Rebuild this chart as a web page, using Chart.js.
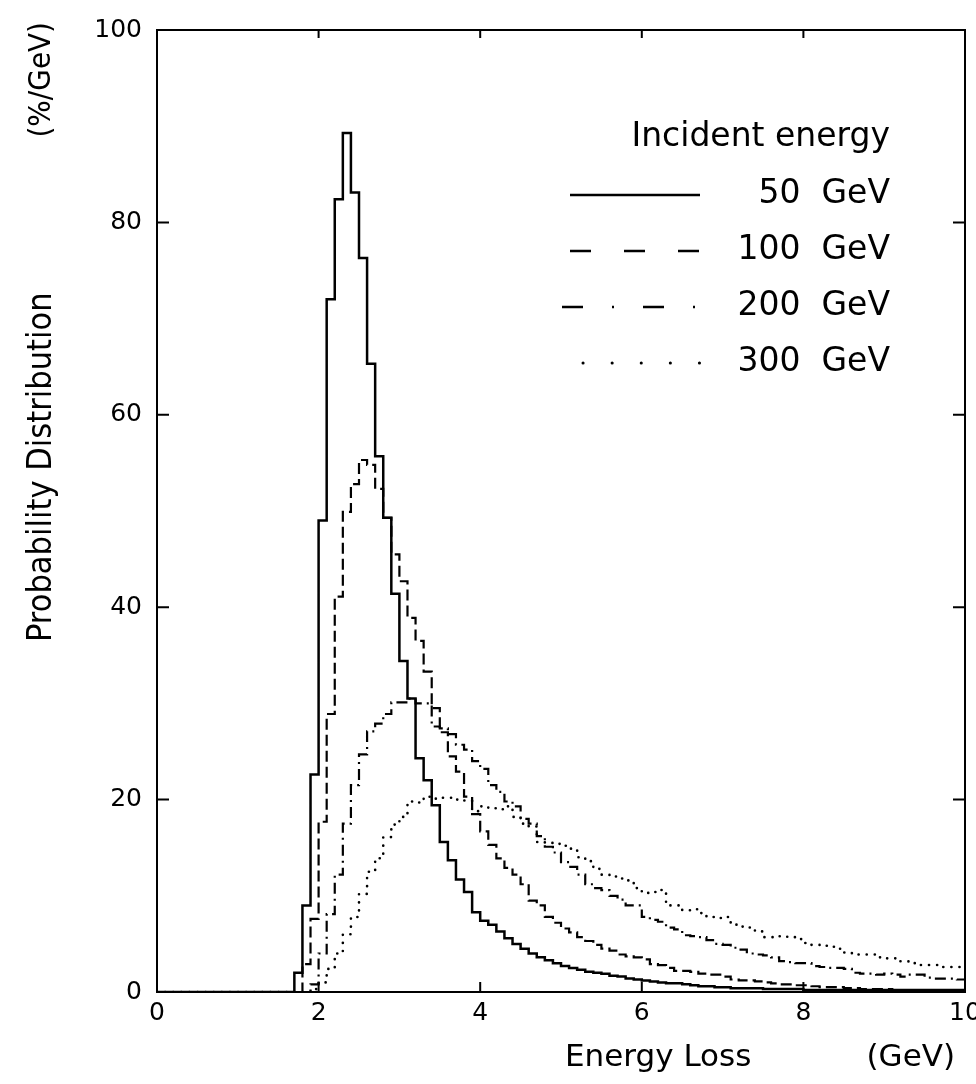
<!DOCTYPE html>
<html>
<head>
<meta charset="utf-8">
<script src="https://cdn.jsdelivr.net/npm/chart.js@4.4.1/dist/chart.umd.min.js"></script>
<style>
  html, body { margin: 0; padding: 0; background: #fff; }
  #wrap { width: 976px; height: 1084px; }
</style>
</head>
<body>
<div id="wrap"><canvas id="chart" width="976" height="1084"></canvas></div>
<script>
// histogram bins are 0.1 GeV wide, each series starts at its first non-empty bin
const binWidth = 0.1;
const xTicks = [0, 2, 4, 6, 8, 10];
const yTicks = [0, 20, 40, 60, 80, 100];
const legendTitle = 'Incident energy';
const energies = ['50  GeV', '100  GeV', '200  GeV', '300  GeV'];

const start50 = 1.7;
const loss50 = [
  2.0, 9.0, 22.6, 49.0, 72.0, 82.4, 89.3, 83.1, 76.3, 65.3,
  55.7, 49.3, 41.4, 34.4, 30.5, 24.3, 22.0, 19.4, 15.6, 13.7,
  11.7, 10.4, 8.3, 7.4, 7.0, 6.3, 5.6, 5.0, 4.5, 4.0,
  3.6, 3.3, 3.0, 2.7, 2.5, 2.3, 2.1, 2.0, 1.9, 1.7,
  1.6, 1.4, 1.3, 1.2, 1.1, 1.0, 0.9, 0.9, 0.8, 0.7,
  0.6, 0.6, 0.5, 0.5, 0.4, 0.4, 0.4, 0.4, 0.3, 0.3,
  0.3, 0.3, 0.3, 0.2, 0.2, 0.2, 0.2, 0.2, 0.2, 0.2,
  0.2, 0.2, 0.2, 0.2, 0.2, 0.2, 0.2, 0.2, 0.2, 0.2,
  0.2, 0.2, 0.2
];

const start100 = 1.8;
const loss100 = [
  2.9, 7.6, 17.7, 28.9, 41.1, 49.9, 52.8, 55.3, 54.8, 52.3,
  49.3, 45.5, 42.7, 38.9, 36.5, 33.3, 29.5, 27.0, 24.5, 22.9,
  20.3, 18.5, 16.7, 15.3, 13.9, 12.9, 12.2, 11.2, 9.5, 9.0,
  7.8, 7.2, 6.6, 6.2, 5.7, 5.3, 4.9, 4.5, 4.3, 3.9,
  3.7, 3.6, 3.4, 2.9, 2.8, 2.5, 2.2, 2.2, 2.1, 1.9,
  1.8, 1.8, 1.6, 1.3, 1.2, 1.2, 1.1, 1.0, 0.9, 0.8,
  0.8, 0.7, 0.7, 0.6, 0.5, 0.5, 0.5, 0.4, 0.4, 0.3,
  0.3, 0.3, 0.3, 0.2, 0.2, 0.2, 0.2, 0.2, 0.2, 0.2,
  0.2, 0.2
];

const start200 = 1.9;
const loss200 = [
  0.8, 4.0, 8.1, 12.2, 17.5, 21.5, 24.7, 27.1, 27.9, 28.9,
  30.1, 30.1, 30.5, 30.0, 30.0, 27.6, 27.4, 26.8, 25.7, 25.2,
  24.0, 23.2, 21.5, 20.8, 19.8, 19.3, 18.0, 17.5, 16.2, 15.1,
  14.5, 13.5, 13.0, 12.2, 11.2, 10.8, 10.6, 10.0, 9.6, 9.0,
  9.0, 7.8, 7.5, 7.3, 6.7, 6.5, 5.9, 5.8, 5.7, 5.4,
  5.0, 4.9, 4.6, 4.4, 4.0, 3.9, 3.8, 3.6, 3.2, 3.1,
  3.0, 3.0, 2.7, 2.6, 2.5, 2.5, 2.4, 2.0, 1.9, 1.9,
  1.8, 1.9, 1.8, 1.6, 1.8, 1.8, 1.5, 1.4, 1.4, 1.4,
  1.3
];

const start300 = 1.9;
const loss300 = [
  0.3, 1.0, 2.4, 4.0, 6.0, 7.8, 10.2, 12.5, 13.9, 16.1,
  17.4, 18.2, 19.8, 19.7, 20.3, 20.1, 20.2, 20.2, 20.0, 19.9,
  18.8, 19.3, 19.1, 19.0, 19.3, 18.2, 17.5, 17.2, 15.6, 15.5,
  15.4, 15.2, 14.9, 14.0, 13.6, 12.8, 12.2, 12.0, 11.8, 11.6,
  10.8, 10.3, 10.4, 10.6, 9.0, 9.0, 8.5, 8.6, 8.2, 7.8,
  7.7, 7.8, 7.0, 6.8, 6.7, 6.3, 5.7, 5.7, 5.8, 5.7,
  5.5, 5.1, 4.9, 4.8, 4.7, 4.5, 4.1, 3.9, 3.9, 3.9,
  3.6, 3.5, 3.5, 3.2, 3.0, 2.8, 2.8, 2.8, 2.6, 2.6,
  2.6
];

// step outline: baseline from 0, one point per bin edge, closing edge at the end
function histPoints(start, values) {
  const pts = [{x: 0, y: 0}];
  values.forEach((v, i) => pts.push({x: +(start + i * binWidth).toFixed(2), y: v}));
  pts.push({x: +(start + values.length * binWidth).toFixed(2), y: values[values.length - 1]});
  return pts;
}

const lineDash = [[], [11, 5], [11, 5, 2, 5], [0.1, 8]];
const lineWidths = [2.5, 2.2, 2.2, 2.6];
const legendDash = [[], [21, 33], [21, 29, 2, 29], [0.1, 29]];

// box + inward tick marks
const framePlugin = {
  id: 'frame',
  beforeDatasetsDraw(chart) {
    const {ctx, chartArea: a, scales: {x, y}} = chart;
    ctx.save();
    ctx.strokeStyle = '#000';
    ctx.lineWidth = 2;
    ctx.strokeRect(a.left, a.top, a.right - a.left, a.bottom - a.top);
    ctx.beginPath();
    yTicks.slice(1, -1).forEach(v => {
      const py = y.getPixelForValue(v);
      ctx.moveTo(a.left, py); ctx.lineTo(a.left + 12, py);
      ctx.moveTo(a.right, py); ctx.lineTo(a.right - 12, py);
    });
    xTicks.slice(1, -1).forEach(v => {
      const px = x.getPixelForValue(v);
      ctx.moveTo(px, a.bottom); ctx.lineTo(px, a.bottom - 10);
      ctx.moveTo(px, a.top); ctx.lineTo(px, a.top + 8);
    });
    ctx.stroke();
    ctx.restore();
  }
};

const textPlugin = {
  id: 'texts',
  afterDraw(chart) {
    const {ctx, chartArea: a} = chart;
    ctx.save();
    ctx.fillStyle = '#000';
    ctx.strokeStyle = '#000';
    ctx.textBaseline = 'middle';

    // legend
    ctx.font = '33px "DejaVu Sans"';
    ctx.textAlign = 'right';
    ctx.fillText(legendTitle, 890, 137);
    chart.data.datasets.forEach((ds, i) => {
      const ly = 194 + i * 56;
      ctx.fillText(ds.label, 890, ly);
      ctx.beginPath();
      ctx.lineWidth = i === 3 ? 3 : 2.5;
      ctx.lineCap = i === 3 ? 'round' : 'butt';
      ctx.setLineDash(legendDash[i]);
      const x0 = [570, 570, 562, 583][i];
      ctx.moveTo(x0, ly + 1);
      ctx.lineTo(700, ly + 1);
      ctx.stroke();
    });
    ctx.setLineDash([]);

    // axis titles
    ctx.font = '31px "DejaVu Sans"';
    ctx.textAlign = 'left';
    ctx.fillText('Energy Loss', 565, 1058);
    ctx.textAlign = 'right';
    ctx.fillText('(GeV)', a.right - 10, 1058);

    ctx.translate(42, 0);
    ctx.rotate(-Math.PI / 2);
    ctx.font = '34px "DejaVu Sans Condensed", "Liberation Sans Narrow", sans-serif';
    ctx.textAlign = 'left';
    ctx.fillText('Probability Distribution', -642, 0);
    ctx.textAlign = 'right';
    ctx.font = '31px "DejaVu Sans Condensed", "Liberation Sans Narrow", sans-serif';
    ctx.fillText('(%/GeV)', -22, 0);
    ctx.restore();
  }
};

const series = [
  [start50, loss50], [start100, loss100], [start200, loss200], [start300, loss300]
];

new Chart(document.getElementById('chart'), {
  type: 'line',
  data: {
    datasets: series.map(([s, vals], i) => ({
      label: energies[i],
      data: histPoints(s, vals),
      stepped: true,
      borderColor: '#000',
      borderWidth: lineWidths[i],
      borderDash: lineDash[i],
      borderCapStyle: i === 3 ? 'round' : 'butt',
      pointRadius: 0,
      fill: false,
      tension: 0
    }))
  },
  options: {
    responsive: false,
    animation: false,
    devicePixelRatio: 1,
    layout: {padding: {top: 30, right: 11, left: 0, bottom: 0}},
    plugins: {legend: {display: false}, tooltip: {enabled: false}},
    scales: {
      x: {
        type: 'linear', min: 0, max: 10,
        afterBuildTicks: s => { s.ticks = xTicks.map(v => ({value: v})); },
        afterFit: s => { s.height = 92; s.paddingLeft = 0; s.paddingRight = 0; },
        grid: {display: false, drawTicks: false},
        border: {display: false},
        ticks: {color: '#000', padding: 6, maxRotation: 0, font: {family: 'DejaVu Sans', size: 25}}
      },
      y: {
        type: 'linear', min: 0, max: 100,
        afterBuildTicks: s => { s.ticks = yTicks.map(v => ({value: v})); },
        afterFit: s => { s.width = 157; s.paddingTop = 0; s.paddingBottom = 0; },
        grid: {display: false, drawTicks: false},
        border: {display: false},
        ticks: {color: '#000', padding: 15, font: {family: 'DejaVu Sans', size: 25}}
      }
    }
  },
  plugins: [framePlugin, textPlugin]
});
</script>
</body>
</html>
